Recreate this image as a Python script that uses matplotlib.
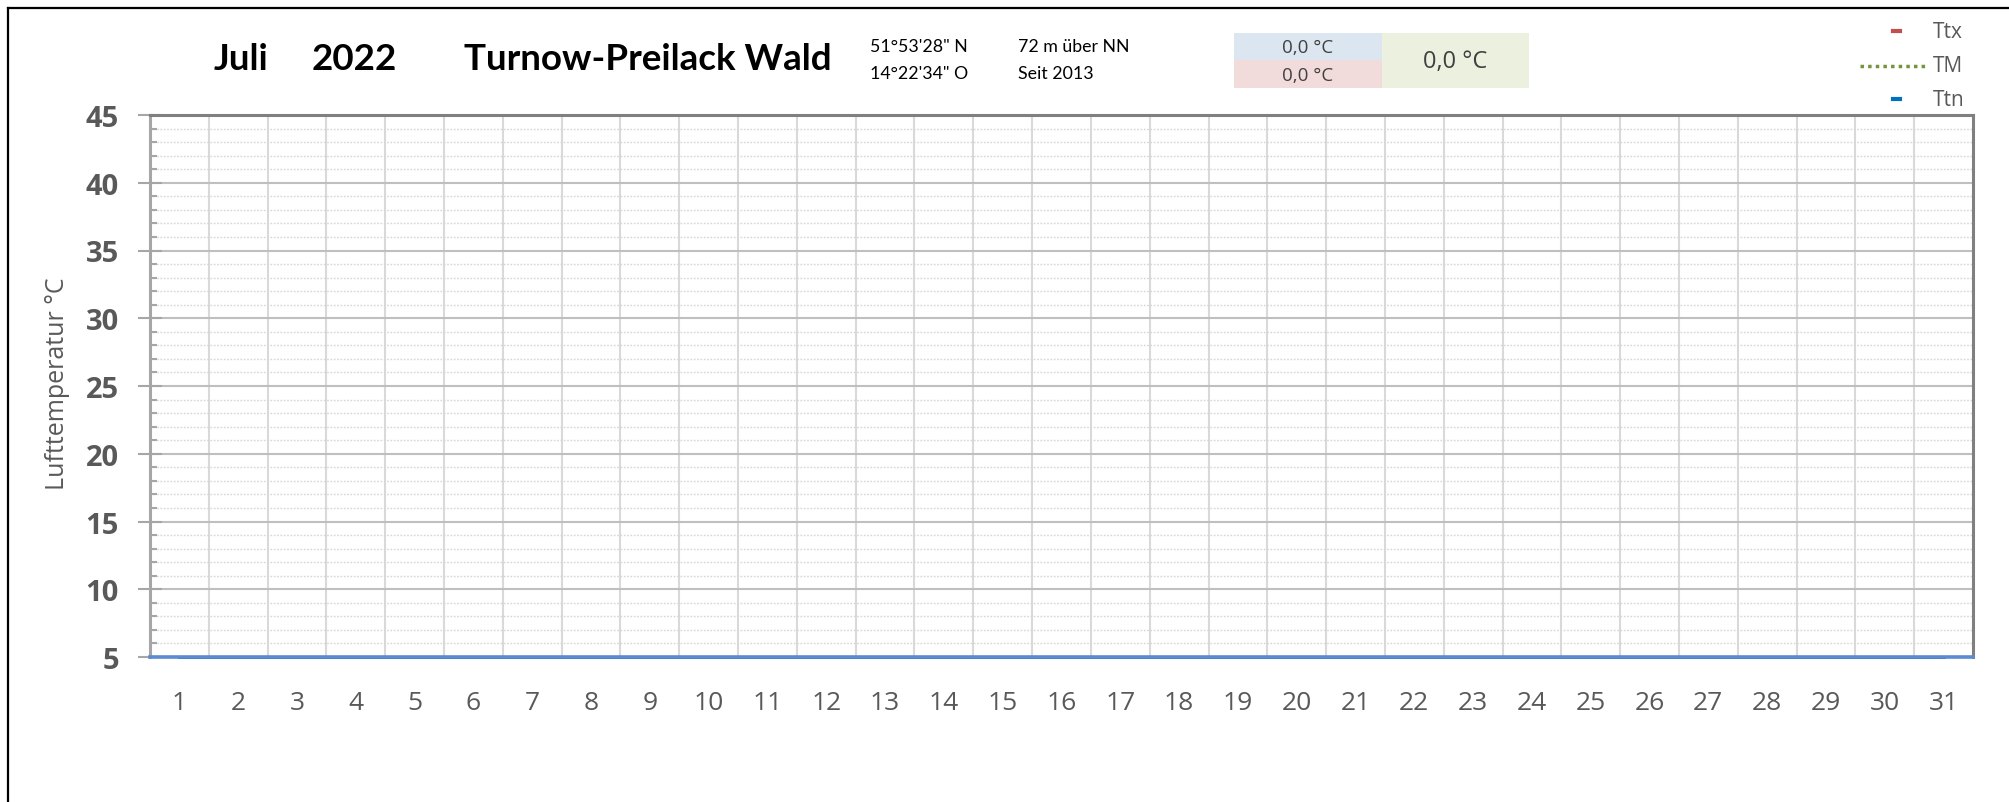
import numpy as np
import matplotlib
matplotlib.use("Agg")
import matplotlib.pyplot as plt
from matplotlib.lines import Line2D
from matplotlib.patches import Rectangle

# data (empty month: all values 0,0)
days = list(range(1, 32))
ttx = [0.0, 0.0, 0.0, 0.0, 0.0, 0.0, 0.0, 0.0, 0.0, 0.0, 0.0, 0.0, 0.0, 0.0, 0.0, 0.0,
       0.0, 0.0, 0.0, 0.0, 0.0, 0.0, 0.0, 0.0, 0.0, 0.0, 0.0, 0.0, 0.0, 0.0, 0.0]
tm = [0.0, 0.0, 0.0, 0.0, 0.0, 0.0, 0.0, 0.0, 0.0, 0.0, 0.0, 0.0, 0.0, 0.0, 0.0, 0.0,
      0.0, 0.0, 0.0, 0.0, 0.0, 0.0, 0.0, 0.0, 0.0, 0.0, 0.0, 0.0, 0.0, 0.0, 0.0]
ttn = [0.0, 0.0, 0.0, 0.0, 0.0, 0.0, 0.0, 0.0, 0.0, 0.0, 0.0, 0.0, 0.0, 0.0, 0.0, 0.0,
       0.0, 0.0, 0.0, 0.0, 0.0, 0.0, 0.0, 0.0, 0.0, 0.0, 0.0, 0.0, 0.0, 0.0, 0.0]
series_names = ["Ttx", "TM", "Ttn"]
y_ticks = [5, 10, 15, 20, 25, 30, 35, 40, 45]

month, year = "Juli", "2022"
station = "Turnow-Preilack Wald"
lat, lon = "51°53'28\" N", "14°22'34\" O"
height, since = "72 m über NN", "Seit 2013"
mean_max, mean_min, mean_all = "0,0 °C", "0,0 °C", "0,0 °C"

W, H = 2009, 803
GREY = "#595959"
NARROW = ["Lato", "DejaVu Sans"]
SANS = ["Open Sans", "DejaVu Sans"]

fig = plt.figure(figsize=(W / 100, H / 100), dpi=100)
renderer = fig.canvas.get_renderer()


def fx(x):
    return x / W


def fy(y):
    return 1 - y / H


def fit_size(txt, width_px, **kw):
    """fontsize that makes txt about width_px wide"""
    t = fig.text(0, 0, txt, fontsize=20, **kw)
    w = t.get_window_extent(renderer).width
    t.remove()
    return 20 * width_px / w


# axes placed in pixel coords of the reference
left, right, top, bottom = 150, 1973, 116, 658
ax = fig.add_axes([fx(left), fy(bottom), (right - left) / W, (bottom - top) / H])

ax.set_xlim(0.5, 31.5)
ax.set_ylim(5, 45)

# grid
ax.set_yticks(y_ticks)
ax.set_yticks(np.arange(6, 45, 1), minor=True)
ax.set_xticks(days)
ax.set_xticks(np.arange(1.5, 31, 1), minor=True)
ax.grid(True, which="major", axis="y", color="#bfbfbf", lw=1.5)
ax.grid(True, which="minor", axis="y", color="#d6d6d6", lw=1.0, linestyle=(0, (1.2, 1.2)))
ax.grid(True, which="minor", axis="x", color="#d9d9d9", lw=1.5)
ax.set_axisbelow(True)

# series (values below the axis minimum sit on the bottom edge, like Excel)
colors = {"Ttx": "#c0504d", "TM": "#77933c", "Ttn": "#0070c0"}
styles = {"Ttx": "-", "TM": ":", "Ttn": "-"}
for name, vals in zip(series_names, [ttx, tm, ttn]):
    ax.plot(days, np.clip(vals, 5, 45), color=colors[name], ls=styles[name],
            lw=2, clip_on=False, zorder=3)

# spines
ax.spines["top"].set_color("#808080")
ax.spines["right"].set_color("#808080")
ax.spines["left"].set_color("#a6a6a6")
ax.spines["bottom"].set_color("#5b8bd0")
for s in ax.spines.values():
    s.set_linewidth(2.2)
ax.spines["bottom"].set_linewidth(2.6)
ax.spines["bottom"].set_zorder(4)

ax.tick_params(axis="y", which="major", direction="inout", length=17, width=1.5,
               color="#a6a6a6", pad=14, labelsize=21, labelcolor=GREY)
ax.tick_params(axis="y", which="minor", direction="in", length=5, width=1.5,
               color="#a6a6a6")
ax.tick_params(axis="x", which="both", length=0, pad=24, labelsize=19, labelcolor=GREY)
for lab in ax.get_yticklabels():
    lab.set_fontweight("bold")
    lab.set_family(SANS)
for lab in ax.get_xticklabels():
    lab.set_family(SANS)

fig.text(fx(57), fy(384), "Lufttemperatur °C", rotation=90, ha="center", va="center",
         fontsize=18, color=GREY, family=SANS)

# title line
fs_title = fit_size(station, 368, fontweight="bold", family=NARROW)
fig.text(fx(214), fy(60), month, fontsize=fs_title, fontweight="bold", va="center", family=NARROW)
fig.text(fx(312), fy(60), year, fontsize=fs_title, fontweight="bold", va="center", family=NARROW)
fig.text(fx(464), fy(60), station, fontsize=fs_title, fontweight="bold", va="center", family=NARROW)
fs_info = fit_size(lat, 97, family=NARROW)
fig.text(fx(870), fy(47), lat, fontsize=fs_info, va="center", family=NARROW)
fig.text(fx(870), fy(74), lon, fontsize=fs_info, va="center", family=NARROW)
fig.text(fx(1018), fy(47), height, fontsize=fs_info, va="center", family=NARROW)
fig.text(fx(1018), fy(74), since, fontsize=fs_info, va="center", family=NARROW)

# summary boxes
boxes = [(1234, 34, 148, 27, "#dce6f1", mean_max, 48, 13.5),
         (1234, 61, 148, 28, "#f2dcdb", mean_min, 76, 13.5),
         (1382, 34, 147, 55, "#ebf1de", mean_all, 62, 17)]
for x0, y0, w, h, col, txt, ty, fs in boxes:
    fig.add_artist(Rectangle((fx(x0), fy(y0 + h)), w / W, h / H, color=col,
                             transform=fig.transFigure, lw=0))
    fig.text(fx(x0 + w / 2), fy(ty), txt, ha="center", va="center", fontsize=fs,
             color="#404040", family=SANS)

# legend
leg_y = {"Ttx": 32, "TM": 67, "Ttn": 100}
for name in series_names:
    y = fy(leg_y[name])
    if name == "TM":
        fig.add_artist(Line2D([fx(1860), fx(1927)], [y, y], color=colors[name],
                              ls=(0, (1, 1.2)), lw=2.5))
    else:
        fig.add_artist(Line2D([fx(1893), fx(1900)], [y, y], color=colors[name], lw=3))
    fig.text(fx(1933), y, name, va="center", fontsize=15, color=GREY, family=SANS)

# outer frame (only left and top edges visible)
fig.add_artist(Line2D([fx(8), fx(8)], [fy(9), 0], color="black", lw=1.6))
fig.add_artist(Line2D([fx(8), 1], [fy(9), fy(9)], color="black", lw=1.6))

fig.savefig("out.png", dpi=100)
